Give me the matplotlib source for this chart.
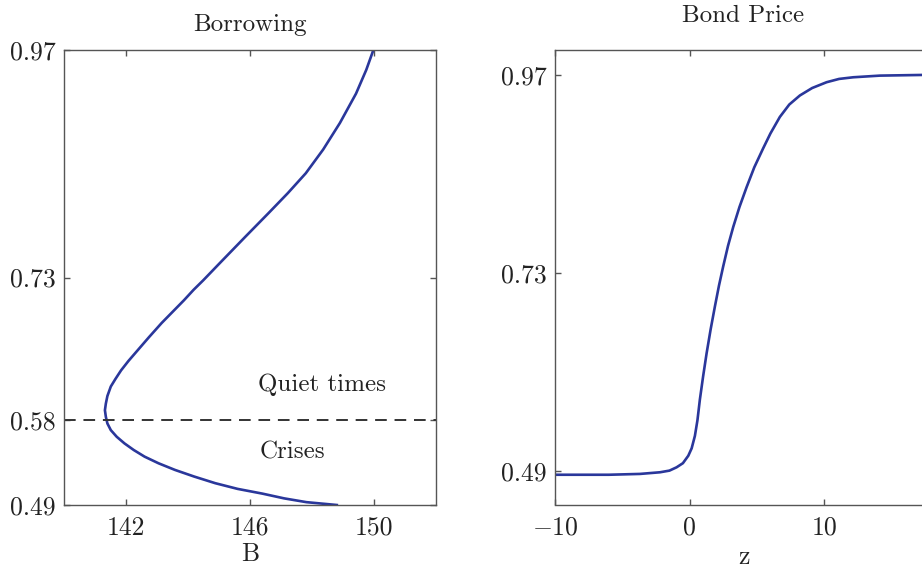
import matplotlib
matplotlib.use("Agg")
import matplotlib.pyplot as plt

plt.rcParams['font.family'] = 'serif'
plt.rcParams['font.serif'] = ['cmr10', 'DejaVu Serif']
plt.rcParams['mathtext.fontset'] = 'cm'
plt.rcParams['axes.formatter.use_mathtext'] = True

# borrowing B against bond price threshold
borrow_B = [148.80, 147.82, 147.10, 146.40, 145.60, 144.88, 144.20, 143.58,
            143.05, 142.60, 142.25, 141.95, 141.70, 141.51, 141.40, 141.35,
            141.32, 141.35, 141.40, 141.51, 141.66, 141.84, 142.08, 142.37,
            142.74, 143.15, 143.51, 143.87, 144.18, 144.49, 145.02, 145.85,
            146.60, 147.22, 147.80, 148.36, 148.90, 149.42, 149.75, 149.98]
borrow_p = [0.490, 0.493, 0.497, 0.502, 0.507, 0.513, 0.520, 0.527,
            0.534, 0.541, 0.548, 0.555, 0.562, 0.569, 0.576, 0.583,
            0.590, 0.597, 0.605, 0.615, 0.623, 0.632, 0.642, 0.653,
            0.667, 0.682, 0.694, 0.706, 0.717, 0.727, 0.745, 0.773,
            0.798, 0.819, 0.840, 0.865, 0.893, 0.924, 0.949, 0.970]
crisis_cut = 0.58

# bond price as a function of z
price_z = [-10, -6, -3.69, -2.20, -1.50, -0.97, -0.50, -0.10, 0.15, 0.39,
           0.58, 0.76, 1.00, 1.26, 1.56, 1.88, 2.18, 2.49, 2.85, 3.24, 3.70,
           4.23, 4.80, 5.46, 6.00, 6.70, 7.40, 8.19, 9.10, 10.17, 11.10,
           12.15, 14.13, 18.0]
price_q = [0.486, 0.486, 0.487, 0.489, 0.491, 0.495, 0.500, 0.509, 0.518, 0.533,
           0.552, 0.577, 0.605, 0.633, 0.662, 0.690, 0.715, 0.738, 0.763, 0.786,
           0.810, 0.834, 0.858, 0.881, 0.899, 0.919, 0.934, 0.945, 0.954, 0.961,
           0.965, 0.967, 0.969, 0.970]

left_yticks = [0.49, 0.58, 0.73, 0.97]
left_xticks = [142, 146, 150]
right_yticks = [0.49, 0.73, 0.97]
right_xticks = [-10, 0, 10]

line_col = '#2a379b'
spine_col = '#555555'
text_col = '#222222'

W, H = 922, 569
fig = plt.figure(figsize=(W / 100, H / 100), dpi=100)
ax1 = fig.add_axes([64 / W, 1 - 505 / H, 372 / W, 455 / H])
ax2 = fig.add_axes([555 / W, 1 - 504.5 / H, 377 / W, 454.5 / H])

for ax in (ax1, ax2):
    for s in ax.spines.values():
        s.set_color(spine_col)
        s.set_linewidth(1.0)
    ax.tick_params(direction='in', length=4, width=1, color=spine_col,
                   top=True, right=True, labelsize=18.5, labelcolor=text_col)
    ax.tick_params(axis='x', pad=8)
    ax.tick_params(axis='y', pad=6)

ax1.plot(borrow_B, borrow_p, color=line_col, lw=1.9, solid_joinstyle='round')
ax1.axhline(crisis_cut, color='#333333', lw=1.4, ls=(0, (6, 4)))
ax1.text(146.25, 0.617, 'Quiet times', fontsize=18, color=text_col, va='center')
ax1.text(146.3, 0.545, 'Crises', fontsize=18, color=text_col, va='center')
ax1.set_xlim(140, 152)
ax1.set_ylim(0.49, 0.97)
ax1.set_xticks(left_xticks)
ax1.set_xticklabels([str(v) for v in left_xticks])
ax1.set_yticks(left_yticks)
ax1.set_yticklabels(['%.2f' % v for v in left_yticks])
ax1.set_xlabel('B', fontsize=18.5, color=text_col, labelpad=2)
ax1.set_title('Borrowing', fontsize=18, color=text_col, pad=14)

ax2.plot(price_z, price_q, color=line_col, lw=1.9, solid_joinstyle='round')
ax2.set_xlim(-10, 18)
ax2.set_ylim(0.45, 1.0)
ax2.set_xticks(right_xticks)
ax2.set_xticklabels(['$-10$', '0', '10'])
ax2.set_yticks(right_yticks)
ax2.set_yticklabels(['%.2f' % v for v in right_yticks])
ax2.set_xlabel('z', fontsize=18.5, color=text_col, labelpad=4)
ax2.set_title('Bond Price', fontsize=18, color=text_col, pad=20)

fig.savefig('out.png', dpi=100)
